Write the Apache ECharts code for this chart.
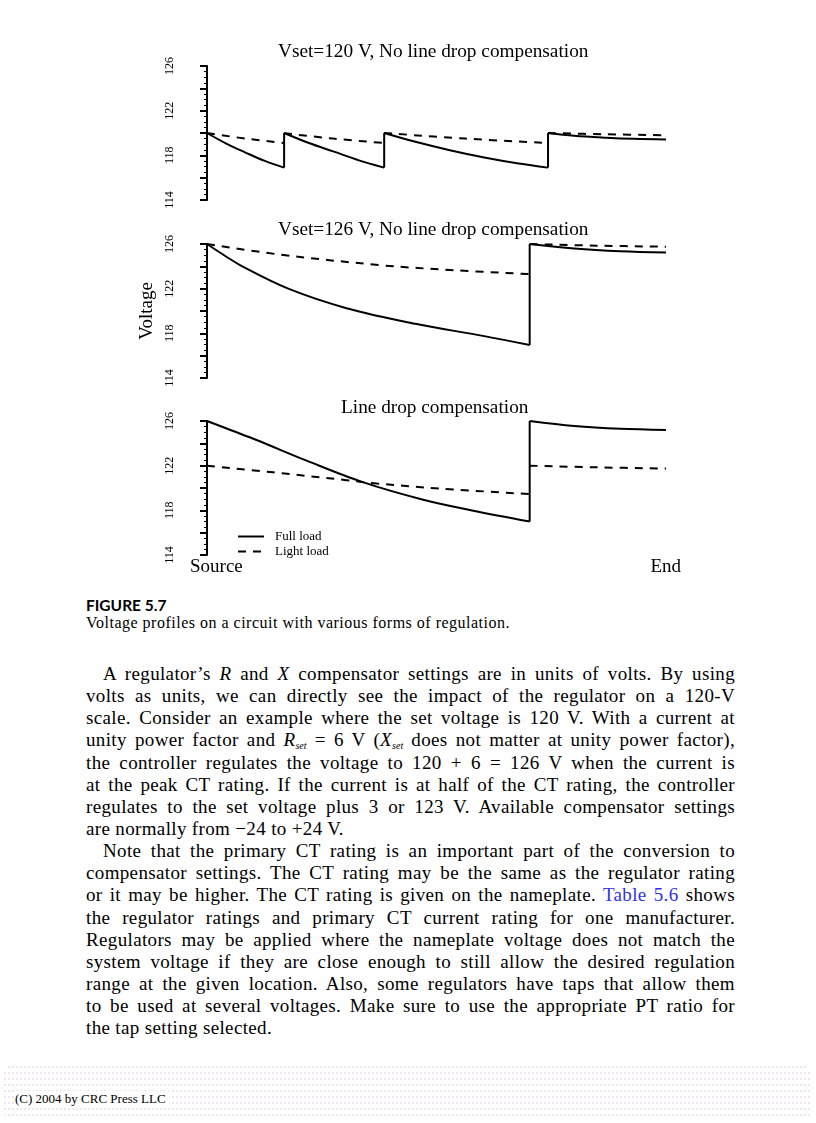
<!DOCTYPE html>
<html>
<head>
<meta charset="utf-8">
<script src="https://cdn.jsdelivr.net/npm/echarts@6/dist/echarts.min.js"></script>
<style>
  html, body { margin: 0; padding: 0; background: #fff; }
  body { width: 816px; height: 1123px; position: relative; overflow: hidden; font-family: "Liberation Serif", serif; color: #000; }
  #chart { position: absolute; left: 0; top: 0; width: 816px; height: 590px; }
  .cap1 { position: absolute; left: 86px; top: 596px; font-family: Lato, sans-serif; font-weight: bold; font-size: 15.5px; line-height: 18px; white-space: nowrap; }
  .cap2 { position: absolute; left: 86px; top: 614px; font-size: 16px; line-height: 18px; white-space: nowrap; }
  #body { position: absolute; left: 86px; top: 663px; width: 649px; font-size: 19px; line-height: 22.15px; letter-spacing: 0.35px; }
  .ln { white-space: nowrap; height: 22.15px; }
  .ind { padding-left: 17px; }
  .blue { color: #3232e6; }
  sub { font-size: 10px; vertical-align: -3px; line-height: 0; font-style: italic; letter-spacing: 0; }
  #foot { position: absolute; left: 3px; top: 1064px; width: 808px; height: 56px; border-radius: 10px;
          background-image: radial-gradient(circle, rgba(215,190,215,0.4) 0.7px, transparent 1px);
          background-size: 4px 6px; }
  #footText { position: absolute; left: 15px; top: 1091px; font-size: 13px; line-height: 16px; white-space: nowrap; background: #fff; padding-right: 3px; }
</style>
</head>
<body>
<div id="chart"></div>
<div class="cap1">FIGURE 5.7</div>
<div class="cap2" id="cap2"><span>Voltage profiles on a circuit with various forms of regulation.</span></div>
<div id="body">
  <div class="ln ind j"><span>A regulator’s <i>R</i> and <i>X</i> compensator settings are in units of volts. By using</span></div>
  <div class="ln j"><span>volts as units, we can directly see the impact of the regulator on a 120-V</span></div>
  <div class="ln j"><span>scale. Consider an example where the set voltage is 120 V. With a current at</span></div>
  <div class="ln j"><span>unity power factor and <i>R</i><sub>set</sub> = 6 V (<i>X</i><sub>set</sub> does not matter at unity power factor),</span></div>
  <div class="ln j"><span>the controller regulates the voltage to 120 + 6 = 126 V when the current is</span></div>
  <div class="ln j"><span>at the peak CT rating. If the current is at half of the CT rating, the controller</span></div>
  <div class="ln j"><span>regulates to the set voltage plus 3 or 123 V. Available compensator settings</span></div>
  <div class="ln"><span>are normally from −24 to +24 V.</span></div>
  <div class="ln ind j"><span>Note that the primary CT rating is an important part of the conversion to</span></div>
  <div class="ln j"><span>compensator settings. The CT rating may be the same as the regulator rating</span></div>
  <div class="ln j"><span>or it may be higher. The CT rating is given on the nameplate. <span class="blue">Table 5.6</span> shows</span></div>
  <div class="ln j"><span>the regulator ratings and primary CT current rating for one manufacturer.</span></div>
  <div class="ln j"><span>Regulators may be applied where the nameplate voltage does not match the</span></div>
  <div class="ln j"><span>system voltage if they are close enough to still allow the desired regulation</span></div>
  <div class="ln j"><span>range at the given location. Also, some regulators have taps that allow them</span></div>
  <div class="ln j"><span>to be used at several voltages. Make sure to use the appropriate PT ratio for</span></div>
  <div class="ln"><span>the tap setting selected.</span></div>
</div>
<div id="foot"></div>
<div id="footText">(C) 2004 by CRC Press LLC</div>

<script>
// ---------------- data ----------------
const yMin = 114, yMax = 126, yStep = 2;
const panelTitles = ['Vset=120 V, No line drop compensation',
                     'Vset=126 V, No line drop compensation',
                     'Line drop compensation'];
const seriesNames = ['Full load', 'Light load'];
const endLabels = ['Source', 'End'];
const GAP = ['-', '-'];   // breaks a line

// distance along feeder: 0 = source, 100 = end ; values in volts
// a repeated x value marks a regulator (vertical jump of the full-load profile)
const p1Full = [[0,120],[4.2,119.05],[8.4,118.25],[12.6,117.5],[16.8,116.9],
                [16.8,120],[22.2,119.1],[27.5,118.35],[33.1,117.55],[38.6,116.9],
                [38.6,120],[45.4,119.21],[52.9,118.46],[60.4,117.81],[67.9,117.27],[74.3,116.9],
                [74.3,120],[80,119.75],[87,119.58],[93,119.48],[100,119.42]];
const p1Light = [[0,120],[8.4,119.5],[16.8,119.1], GAP,
                 [16.8,119.98],[27.5,119.5],[38.6,119.1], GAP,
                 [38.6,120],[56.3,119.5],[74.3,119.1], GAP,
                 [74.3,120],[87,119.88],[100,119.8]];
const p2Full = [[0,126],[3.9,124.95],[7.9,123.95],[17.7,122.0],[30.4,120.25],[45.4,118.85],[60.4,117.75],[70.3,116.95],
                [70.3,126],[80,125.6],[90,125.35],[100,125.23]];
const p2Light = [[0,126],[15.4,125.08],[37.9,124.1],[54,123.65],[70.3,123.3], GAP,
                 [70.3,126],[85,125.85],[100,125.76]];
const p3Full = [[0,126],[5.4,125.15],[10.8,124.3],[21.7,122.45],[34.1,120.5],[47.1,118.95],[58,117.97],[70.3,117.0],
                [70.3,126],[80,125.55],[90,125.3],[100,125.2]];
const p3Light = [[0,122],[14.4,121.4],[30.4,120.7],[37,120.4],[50.8,119.95],[70.3,119.45], GAP,
                 [70.3,122],[85,121.85],[100,121.74]];

// ---------------- chart ----------------
const FONT = 'Liberation Serif';
const gridTops = [66, 244, 421];
const panels = [[p1Full, p1Light], [p2Full, p2Light], [p3Full, p3Light]];
const titleLeft = [278, 278, 341];
const titleTop = [42, 220, 398];

// split a profile into smooth pieces and vertical regulator jumps
function splitProfile(data) {
  const pieces = [], jumps = [];
  let cur = [];
  data.forEach(p => {
    if (p === GAP || p[0] === '-') { if (cur.length) pieces.push(cur); cur = []; return; }
    const last = cur[cur.length - 1];
    if (last && last[0] === p[0]) {
      jumps.push([last, p]);
      pieces.push(cur); cur = [p];
    } else cur.push(p);
  });
  if (cur.length) pieces.push(cur);
  return { pieces, jumps };
}

const chart = echarts.init(document.getElementById('chart'), null, { renderer: 'canvas' });

const option = {
  animation: false,
  backgroundColor: '#fff',
  title: panelTitles.map((t, i) => ({
    text: t, left: titleLeft[i], top: titleTop[i], padding: 0,
    textStyle: { fontFamily: FONT, fontSize: 19.3, fontWeight: 'normal', color: '#000' }
  })),
  legend: {
    data: [
      { name: seriesNames[0], lineStyle: { type: 'solid' } },
      { name: seriesNames[1], lineStyle: { type: [8, 7] } }
    ],
    orient: 'vertical', left: 237, top: 530, padding: 0,
    itemWidth: 26, itemHeight: 12, itemGap: 2,
    itemStyle: { opacity: 0 },
    textStyle: { fontFamily: FONT, fontSize: 13, color: '#000', padding: [0, 0, 0, 6] }
  },
  grid: gridTops.map(t => ({ left: 207, width: 459, top: t, height: 134 })),
  xAxis: gridTops.map((t, i) => ({ type: 'value', gridIndex: i, min: 0, max: 100, show: false })),
  yAxis: gridTops.map((t, i) => ({
    type: 'value', gridIndex: i, min: yMin, max: yMax, interval: yStep, offset: 19,
    name: i === 1 ? 'Voltage' : '', nameLocation: 'middle', nameGap: 28, nameRotate: 90,
    nameTextStyle: { fontFamily: FONT, fontSize: 19, color: '#000' },
    axisLine: { show: true, lineStyle: { color: '#000', width: 2 } },
    axisTick: { show: true, inside: false, length: 7, lineStyle: { color: '#000', width: 2 } },
    minorTick: { show: true, splitNumber: 4, length: 3, lineStyle: { color: '#000', width: 1 } },
    splitLine: { show: false },
    axisLabel: {
      rotate: 90, margin: 12, fontFamily: FONT, fontSize: 12, color: '#000',
      formatter: v => ((v - yMin) % 4 === 0 ? String(v) : '')
    }
  })),
  graphic: [
    { type: 'text', left: 190, top: 558, style: { text: endLabels[0], font: '19px "Liberation Serif"', fill: '#000' } },
    { type: 'text', right: 816 - 681, top: 558, style: { text: endLabels[1], font: '19px "Liberation Serif"', fill: '#000' } }
  ],
  series: []
};

const solidStyle = { color: '#000', width: 2 };
const dashStyle = { color: '#000', width: 2, type: [8, 7] };

panels.forEach((pair, i) => {
  const full = splitProfile(pair[0]);
  full.pieces.forEach(seg => option.series.push({
    name: seriesNames[0], type: 'line', xAxisIndex: i, yAxisIndex: i, data: seg,
    symbol: 'none', smooth: 0.35, lineStyle: solidStyle, itemStyle: { color: '#000' }
  }));
  full.jumps.forEach(seg => option.series.push({
    name: seriesNames[0], type: 'line', xAxisIndex: i, yAxisIndex: i, data: seg,
    symbol: 'none', lineStyle: solidStyle, itemStyle: { color: '#000' }
  }));
  const light = splitProfile(pair[1]);
  light.pieces.forEach(seg => option.series.push({
    name: seriesNames[1], type: 'line', xAxisIndex: i, yAxisIndex: i, data: seg,
    symbol: 'none', smooth: 0.35, lineStyle: dashStyle, itemStyle: { color: '#000' }
  }));
});

chart.setOption(option);

// ---------------- justify text lines ----------------
function fitWords(div, target) {
  const span = div.firstElementChild;
  const w = span.getBoundingClientRect().width;
  const spaces = (span.textContent.match(/ /g) || []).length;
  if (spaces > 0) div.style.wordSpacing = ((target - w) / spaces) + 'px';
}
document.querySelectorAll('#body .ln.j').forEach(d => {
  const target = d.classList.contains('ind') ? 632 : 649;
  fitWords(d, target);
});
(function fitCaption() {
  const d = document.getElementById('cap2');
  const span = d.firstElementChild;
  const w = span.getBoundingClientRect().width;
  const n = span.textContent.length;
  d.style.letterSpacing = ((424 - w) / n) + 'px';
})();
</script>
</body>
</html>
